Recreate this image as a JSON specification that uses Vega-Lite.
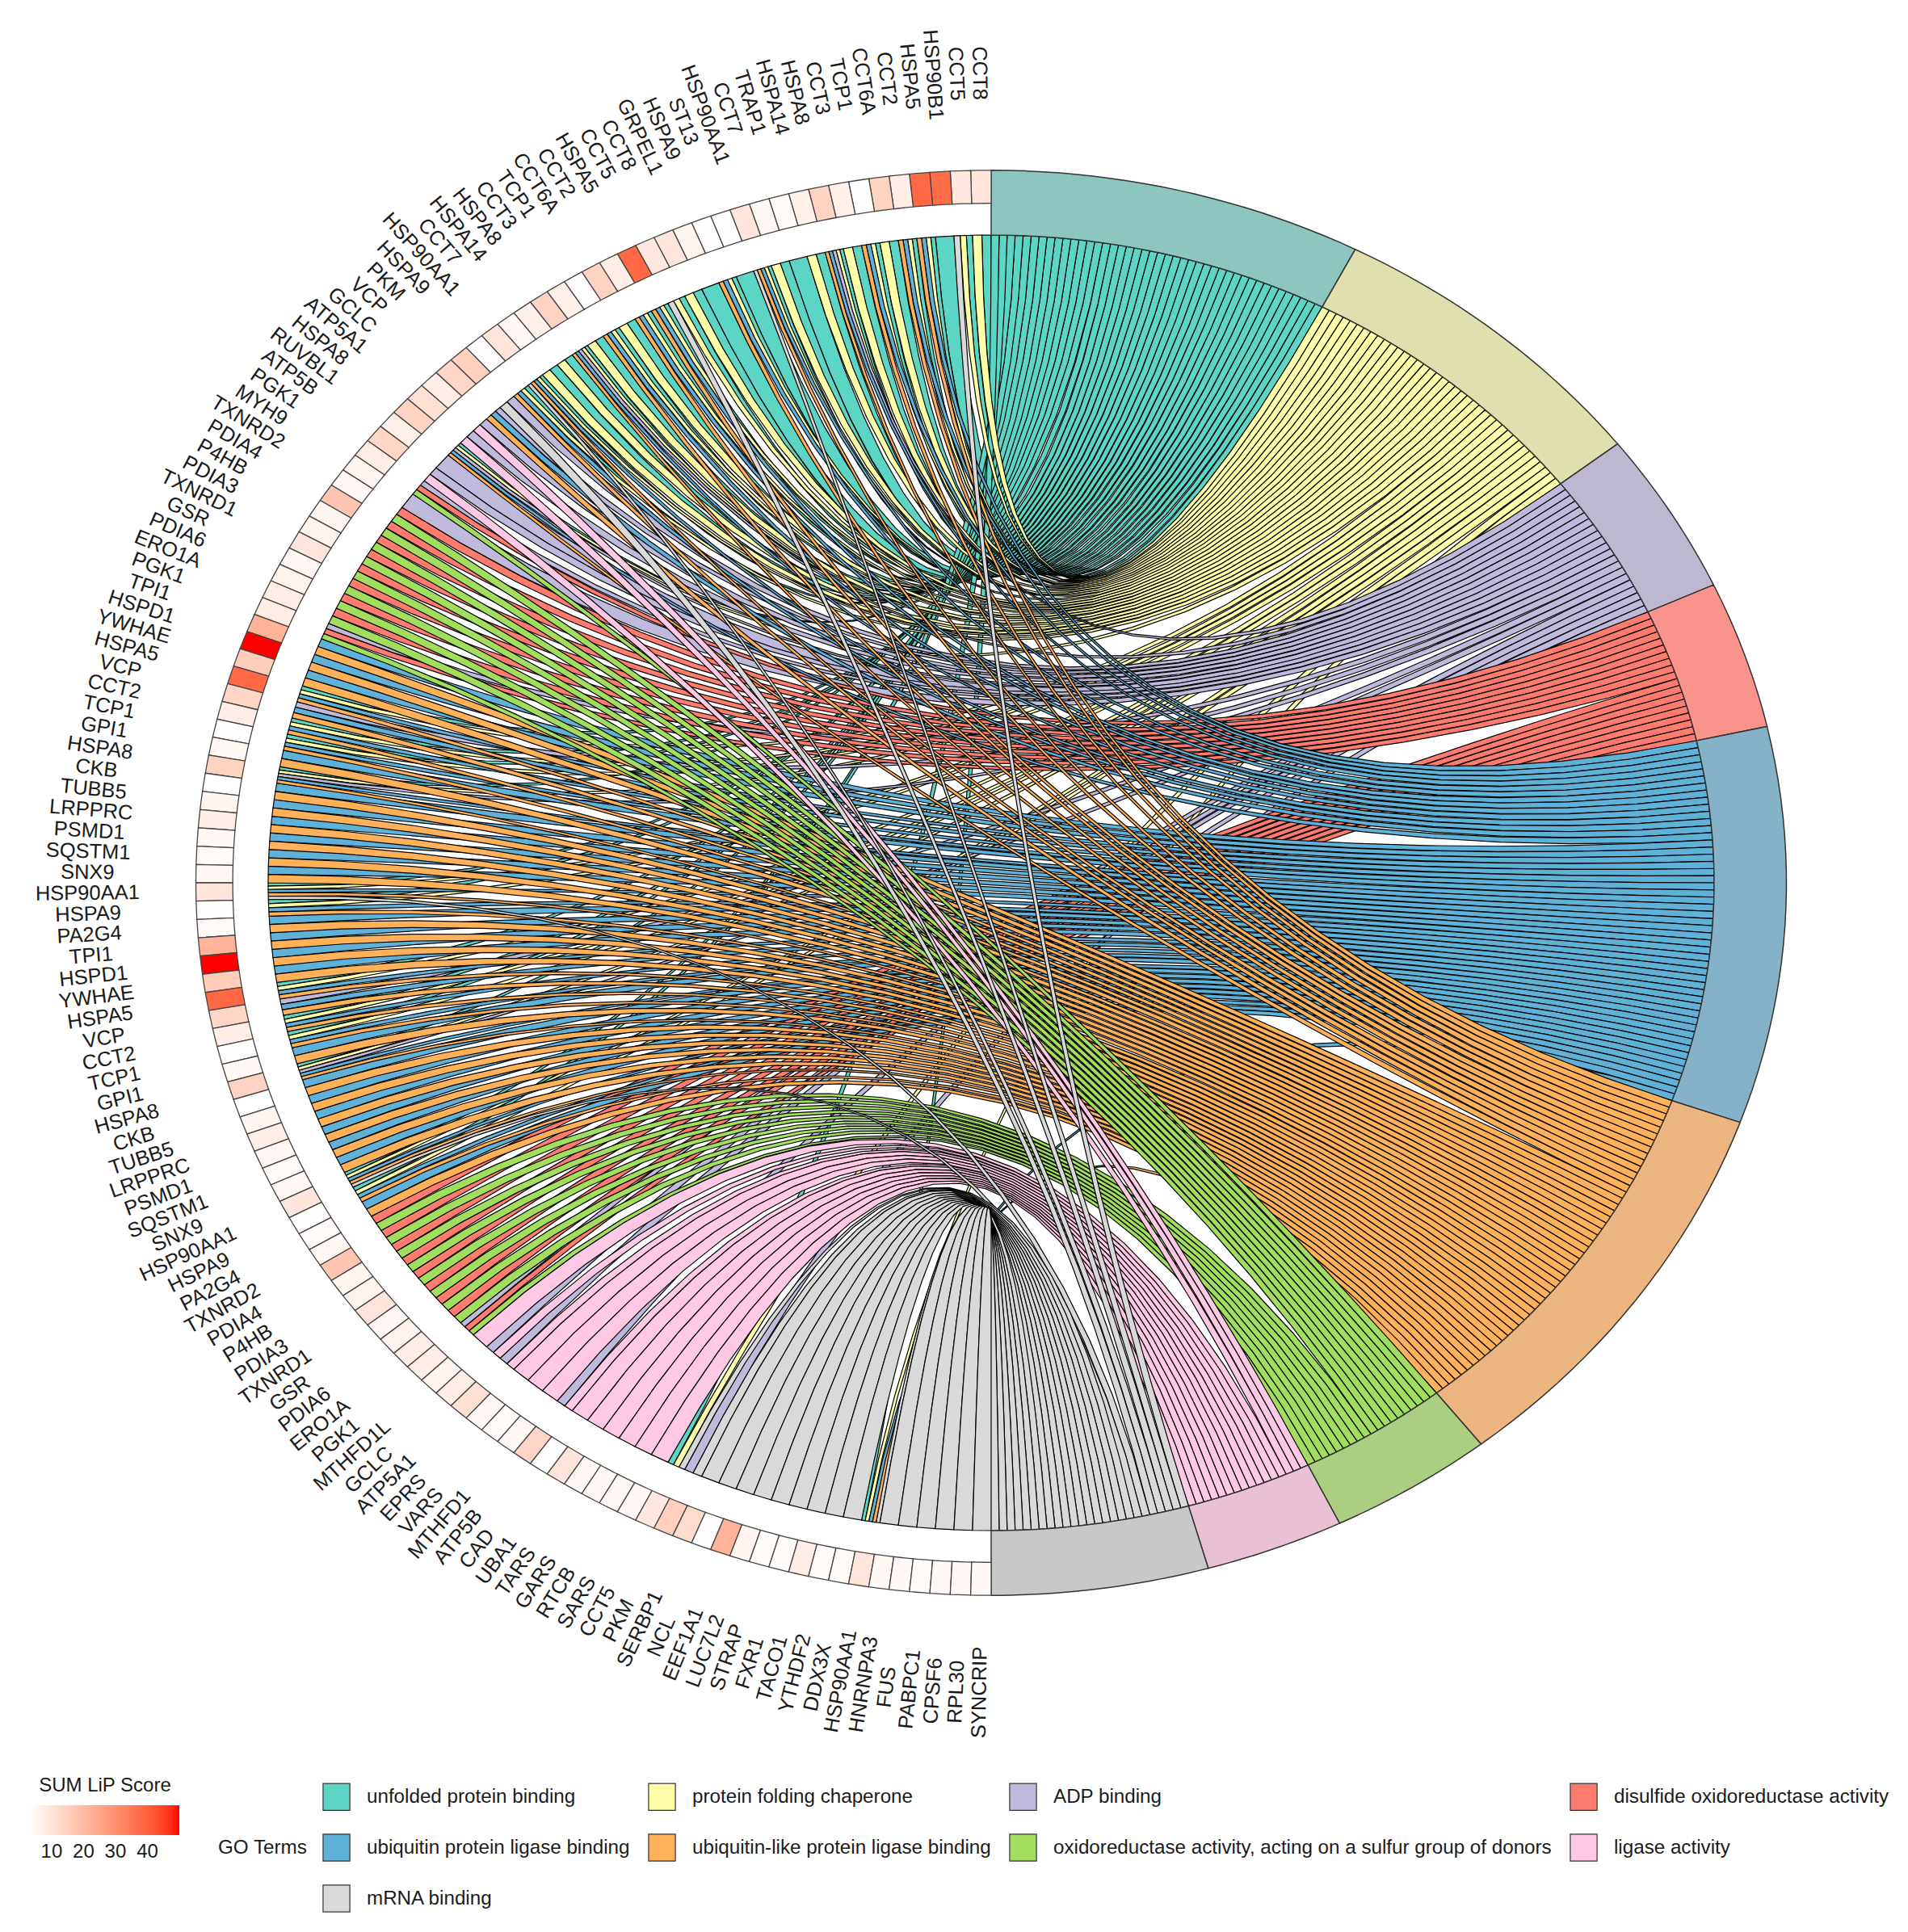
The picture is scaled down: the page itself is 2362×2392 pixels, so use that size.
{"$schema":"https://vega.github.io/schema/vega-lite/v6.json","autosize":{"type":"fit","contains":"padding"},"padding":0,"width":2362,"height":2392,"background":"white","config":{"font":"Liberation Sans","view":{"stroke":null},"line":{"interpolate":"linear-closed","stroke":"#000000","strokeWidth":1.2}},"datasets":{"rows":[
{"row":1,"gene":"CCT8","score":9.6,"terms":[0,1]},{"row":2,"gene":"CCT5","score":8.9,"terms":[0,1,8]},{"row":3,"gene":"HSP90B1","score":37.5,"terms":[0]},{"row":4,"gene":"HSPA5","score":38.5,"terms":[0,1,4,5]},{"row":5,"gene":"CCT2","score":7.6,"terms":[0,1,4,5]},{"row":6,"gene":"CCT6A","score":14.2,"terms":[0,1]},{"row":7,"gene":"TCP1","score":3.6,"terms":[0,1,4,5]},{"row":8,"gene":"CCT3","score":7,"terms":[0,1]},{"row":9,"gene":"HSPA8","score":14.2,"terms":[0,1,2,4,5]},{"row":10,"gene":"HSPA14","score":7,"terms":[0,1]},{"row":11,"gene":"TRAP1","score":4.3,"terms":[0]},{"row":12,"gene":"CCT7","score":5,"terms":[0,1]},{"row":13,"gene":"HSP90AA1","score":9.6,"terms":[0,1,4,5,8]},{"row":14,"gene":"ST13","score":3.6,"terms":[0]},{"row":15,"gene":"HSPA9","score":3.6,"terms":[0,1,4,5]},{"row":16,"gene":"GRPEL1","score":5.6,"terms":[0]},
{"row":17,"gene":"CCT8","score":9.6,"terms":[0,1]},{"row":18,"gene":"CCT5","score":8.9,"terms":[0,1,8]},{"row":19,"gene":"HSPA5","score":38.5,"terms":[0,1,4,5]},{"row":20,"gene":"CCT2","score":7.6,"terms":[0,1,4,5]},{"row":21,"gene":"CCT6A","score":14.2,"terms":[0,1]},{"row":22,"gene":"TCP1","score":3.6,"terms":[0,1,4,5]},{"row":23,"gene":"CCT3","score":7,"terms":[0,1]},{"row":24,"gene":"HSPA8","score":14.2,"terms":[0,1,2,4,5]},{"row":25,"gene":"HSPA14","score":7,"terms":[0,1]},{"row":26,"gene":"CCT7","score":5,"terms":[0,1]},{"row":27,"gene":"HSP90AA1","score":9.6,"terms":[0,1,4,5,8]},{"row":28,"gene":"HSPA9","score":3.6,"terms":[0,1,4,5]},
{"row":29,"gene":"PKM","score":14.9,"terms":[2,8]},{"row":30,"gene":"VCP","score":13.6,"terms":[2,4,5]},{"row":31,"gene":"GCLC","score":7.6,"terms":[2,7]},{"row":32,"gene":"ATP5A1","score":10.9,"terms":[2,7]},{"row":33,"gene":"HSPA8","score":14.2,"terms":[0,1,2,4,5]},{"row":34,"gene":"RUVBL1","score":7,"terms":[2]},{"row":35,"gene":"ATP5B","score":13.6,"terms":[2,7]},{"row":36,"gene":"PGK1","score":7.6,"terms":[2,3,6]},{"row":37,"gene":"MYH9","score":5.6,"terms":[2]},
{"row":38,"gene":"TXNRD2","score":5,"terms":[3,6]},{"row":39,"gene":"PDIA4","score":17.6,"terms":[3,6]},{"row":40,"gene":"P4HB","score":5.6,"terms":[3,6]},{"row":41,"gene":"PDIA3","score":6.3,"terms":[3,6]},{"row":42,"gene":"TXNRD1","score":9.6,"terms":[3,6]},{"row":43,"gene":"GSR","score":5,"terms":[3,6]},{"row":44,"gene":"PDIA6","score":6.3,"terms":[3,6]},{"row":45,"gene":"ERO1A","score":7.6,"terms":[3,6]},{"row":46,"gene":"PGK1","score":7.6,"terms":[2,3,6]},
{"row":47,"gene":"TPI1","score":22,"terms":[4,5]},{"row":48,"gene":"HSPD1","score":50,"terms":[4,5]},{"row":49,"gene":"YWHAE","score":15.6,"terms":[4,5]},{"row":50,"gene":"HSPA5","score":38.5,"terms":[0,1,4,5]},{"row":51,"gene":"VCP","score":13.6,"terms":[2,4,5]},{"row":52,"gene":"CCT2","score":7.6,"terms":[0,1,4,5]},{"row":53,"gene":"TCP1","score":3.6,"terms":[0,1,4,5]},{"row":54,"gene":"GPI1","score":5,"terms":[4,5]},{"row":55,"gene":"HSPA8","score":14.2,"terms":[0,1,2,4,5]},{"row":56,"gene":"CKB","score":3.2,"terms":[4,5]},{"row":57,"gene":"TUBB5","score":5.6,"terms":[4,5]},{"row":58,"gene":"LRPPRC","score":7.6,"terms":[4,5]},{"row":59,"gene":"PSMD1","score":5,"terms":[4,5]},{"row":60,"gene":"SQSTM1","score":4.7,"terms":[4,5]},{"row":61,"gene":"SNX9","score":5,"terms":[4,5]},{"row":62,"gene":"HSP90AA1","score":9.6,"terms":[0,1,4,5,8]},{"row":63,"gene":"HSPA9","score":3.6,"terms":[0,1,4,5]},{"row":64,"gene":"PA2G4","score":4.5,"terms":[4,5]},
{"row":65,"gene":"TPI1","score":22,"terms":[4,5]},{"row":66,"gene":"HSPD1","score":50,"terms":[4,5]},{"row":67,"gene":"YWHAE","score":15.6,"terms":[4,5]},{"row":68,"gene":"HSPA5","score":38.5,"terms":[0,1,4,5]},{"row":69,"gene":"VCP","score":13.6,"terms":[2,4,5]},{"row":70,"gene":"CCT2","score":7.6,"terms":[0,1,4,5]},{"row":71,"gene":"TCP1","score":3.6,"terms":[0,1,4,5]},{"row":72,"gene":"GPI1","score":5,"terms":[4,5]},{"row":73,"gene":"HSPA8","score":14.2,"terms":[0,1,2,4,5]},{"row":74,"gene":"CKB","score":3.2,"terms":[4,5]},{"row":75,"gene":"TUBB5","score":5.6,"terms":[4,5]},{"row":76,"gene":"LRPPRC","score":7.6,"terms":[4,5]},{"row":77,"gene":"PSMD1","score":5,"terms":[4,5]},{"row":78,"gene":"SQSTM1","score":4.7,"terms":[4,5]},{"row":79,"gene":"SNX9","score":5,"terms":[4,5]},{"row":80,"gene":"HSP90AA1","score":9.6,"terms":[0,1,4,5,8]},{"row":81,"gene":"HSPA9","score":3.6,"terms":[0,1,4,5]},{"row":82,"gene":"PA2G4","score":4.5,"terms":[4,5]},
{"row":83,"gene":"TXNRD2","score":5,"terms":[3,6]},{"row":84,"gene":"PDIA4","score":17.6,"terms":[3,6]},{"row":85,"gene":"P4HB","score":5.6,"terms":[3,6]},{"row":86,"gene":"PDIA3","score":6.3,"terms":[3,6]},{"row":87,"gene":"TXNRD1","score":9.6,"terms":[3,6]},{"row":88,"gene":"GSR","score":5,"terms":[3,6]},{"row":89,"gene":"PDIA6","score":6.3,"terms":[3,6]},{"row":90,"gene":"ERO1A","score":7.6,"terms":[3,6]},{"row":91,"gene":"PGK1","score":7.6,"terms":[2,3,6]},
{"row":92,"gene":"MTHFD1L","score":5.6,"terms":[7]},{"row":93,"gene":"GCLC","score":7.6,"terms":[2,7]},{"row":94,"gene":"ATP5A1","score":10.9,"terms":[2,7]},{"row":95,"gene":"EPRS","score":5,"terms":[7]},{"row":96,"gene":"VARS","score":4.3,"terms":[7]},{"row":97,"gene":"MTHFD1","score":5,"terms":[7]},{"row":98,"gene":"ATP5B","score":13.6,"terms":[2,7]},{"row":99,"gene":"CAD","score":3.6,"terms":[7]},{"row":100,"gene":"UBA1","score":9.6,"terms":[7]},{"row":101,"gene":"TARS","score":5,"terms":[7]},{"row":102,"gene":"GARS","score":5,"terms":[7]},{"row":103,"gene":"RTCB","score":5,"terms":[7]},{"row":104,"gene":"SARS","score":5,"terms":[7]},
{"row":105,"gene":"CCT5","score":8.9,"terms":[0,1,8]},{"row":106,"gene":"PKM","score":14.9,"terms":[2,8]},{"row":107,"gene":"SERBP1","score":12.2,"terms":[8]},{"row":108,"gene":"NCL","score":3.6,"terms":[8]},{"row":109,"gene":"EEF1A1","score":22,"terms":[8]},{"row":110,"gene":"LUC7L2","score":5.6,"terms":[8]},{"row":111,"gene":"STRAP","score":4.3,"terms":[8]},{"row":112,"gene":"FXR1","score":4.3,"terms":[8]},{"row":113,"gene":"TACO1","score":7.6,"terms":[8]},{"row":114,"gene":"YTHDF2","score":4.3,"terms":[8]},{"row":115,"gene":"DDX3X","score":4.3,"terms":[8]},{"row":116,"gene":"HSP90AA1","score":9.6,"terms":[0,1,4,5,8]},{"row":117,"gene":"HNRNPA3","score":5,"terms":[8]},{"row":118,"gene":"FUS","score":5,"terms":[8]},{"row":119,"gene":"PABPC1","score":4.3,"terms":[8]},{"row":120,"gene":"CPSF6","score":5,"terms":[8]},{"row":121,"gene":"RPL30","score":5,"terms":[8]},{"row":122,"gene":"SYNCRIP","score":5,"terms":[8]}
]},"encoding":{"x":{"field":"x","type":"quantitative","axis":null,"scale":{"domain":[-1.37095,1.26816],"nice":false,"zero":false}},"y":{"field":"y","type":"quantitative","axis":null,"scale":{"domain":[-1.6197,1.36284],"nice":false,"zero":false}}},"layer":[
{"data":{"name":"rows"},"transform":[{"flatten":["terms"],"as":["term"]},{"window":[{"op":"row_number","as":"j"}],"groupby":["row"],"sort":[{"field":"term","order":"ascending"}]},{"joinaggregate":[{"op":"count","as":"nj"}],"groupby":["row"]},{"window":[{"op":"row_number","as":"k"}],"groupby":["term"],"sort":[{"field":"row","order":"ascending"}]},{"calculate":"datum.term==0?43-datum.k:[0,43,82,103,122,173,224,243,259][datum.term]+datum.k-1","as":"slot"},{"calculate":"['unfolded protein binding','protein folding chaperone','ADP binding','disulfide oxidoreductase activity','ubiquitin protein ligase binding','ubiquitin-like protein ligase binding','oxidoreductase activity, acting on a sulfur group of donors','ligase activity','mRNA binding'][datum.term]","as":"GO Terms"},{"calculate":"[0,1,2,3,4,5,6,7,8,9,10,11,12,13,14,15,16,17,18,19,20,21,22,23,24,25,26,27,28,29,30,31,32,33,34,35,36,37,38,39,40,41]","as":"p"},{"flatten":["p"]},{"calculate":"datum.p<=20?datum.p/20:(41-datum.p)/20","as":"t"},{"calculate":"(datum.slot+(datum.p<=20?0:1))*PI/284","as":"a"},{"calculate":"(datum.row-1+(datum.j-(datum.p<=20?1:0))/datum.nj)*PI/122","as":"b"},{"calculate":"(1-datum.t)*(1-datum.t)*sin(datum.a)-datum.t*datum.t*sin(datum.b)","as":"x"},{"calculate":"(1-datum.t)*(1-datum.t)*cos(datum.a)+datum.t*datum.t*cos(datum.b)","as":"y"}],"encoding":{"detail":[{"field":"row"},{"field":"term"}],"order":{"field":"p","type":"quantitative"},"fill":{"field":"GO Terms","type":"nominal","scale":{"domain":["unfolded protein binding","protein folding chaperone","ADP binding","disulfide oxidoreductase activity","ubiquitin protein ligase binding","ubiquitin-like protein ligase binding","oxidoreductase activity, acting on a sulfur group of donors","ligase activity","mRNA binding"],"range":["#5CD5C5","#FFFFAA","#BFBADB","#FF7B6E","#60B1D8","#FFB15A","#A2DE5E","#FFC9E6","#D9D9D9"]},"legend":{"orient":"none","legendX":270,"legendY":2207,"direction":"horizontal","columns":4,"gridAlign":"each","symbolType":"square","symbolSize":1100,"symbolStrokeColor":"#333333","symbolStrokeWidth":1.5,"rowPadding":24,"columnPadding":20,"labelOffset":20,"labelFontSize":24.2,"labelColor":"#1a1a1a","labelLimit":900,"title":"GO Terms","titleOrient":"left","titleAnchor":"middle","titleFontSize":24.2,"titleFontWeight":"normal","titleColor":"#1a1a1a","titlePadding":18}}},"layer":[{"mark":"line","transform":[{"filter":"datum.term==0"}]},{"mark":"line","transform":[{"filter":"datum.term==1"}]},{"mark":"line","transform":[{"filter":"datum.term==2"}]},{"mark":"line","transform":[{"filter":"datum.term==3"}]},{"mark":"line","transform":[{"filter":"datum.term==4"}]},{"mark":"line","transform":[{"filter":"datum.term==5"}]},{"mark":"line","transform":[{"filter":"datum.term==6"}]},{"mark":"line","transform":[{"filter":"datum.term==7"}]},{"mark":"line","transform":[{"filter":"datum.term==8"}]}]},
{"data":{"values":[{"name":"unfolded protein binding","start":0,"end":43},{"name":"protein folding chaperone","start":43,"end":82},{"name":"ADP binding","start":82,"end":103},{"name":"disulfide oxidoreductase activity","start":103,"end":122},{"name":"ubiquitin protein ligase binding","start":122,"end":173},{"name":"ubiquitin-like protein ligase binding","start":173,"end":224},{"name":"oxidoreductase activity, acting on a sulfur group of donors","start":224,"end":243},{"name":"ligase activity","start":243,"end":259},{"name":"mRNA binding","start":259,"end":284}]},"transform":[{"calculate":"[0,1,2,3,4,5,6,7,8,9,10,11,12,13,14,15,16,17,18,19,20,21,22,23,24,25,26,27,28,29,30,31,32,33,34,35,36,37,38,39,40,41,42,43,44,45]","as":"p"},{"flatten":["p"]},{"calculate":"(datum.start+(datum.end-datum.start)*(datum.p<=22?datum.p/22:(45-datum.p)/22))*PI/284","as":"a"},{"calculate":"datum.p<=22?1:1.1","as":"r"},{"calculate":"datum.r*sin(datum.a)","as":"x"},{"calculate":"datum.r*cos(datum.a)","as":"y"}],"mark":{"type":"line","stroke":"#333333","strokeWidth":1.5},"encoding":{"detail":{"field":"name"},"order":{"field":"p","type":"quantitative"},"fill":{"field":"name","type":"nominal","legend":null,"scale":{"domain":["unfolded protein binding","protein folding chaperone","ADP binding","disulfide oxidoreductase activity","ubiquitin protein ligase binding","ubiquitin-like protein ligase binding","oxidoreductase activity, acting on a sulfur group of donors","ligase activity","mRNA binding"],"range":["#8CC6BF","#E0E0AE","#BDB8CF","#F9938C","#86B2C8","#ECB47E","#ABCE80","#E8C1D4","#C8C8C8"]}}}},
{"data":{"name":"rows"},"transform":[{"calculate":"[0,1,2,3,4,5,6,7]","as":"p"},{"flatten":["p"]},{"calculate":"(datum.row-1+(datum.p<=3?datum.p/3:(7-datum.p)/3))*PI/122","as":"a"},{"calculate":"datum.p<=3?1.049:1.1","as":"r"},{"calculate":"-datum.r*sin(datum.a)","as":"x"},{"calculate":"datum.r*cos(datum.a)","as":"y"}],"mark":{"type":"line","stroke":"#444444","strokeWidth":1.3},"encoding":{"detail":{"field":"row"},"order":{"field":"p","type":"quantitative"},"fill":{"field":"score","type":"quantitative","scale":{"domain":[3.2,50],"range":["#ffffff","#ff0000"],"interpolate":"lab"},"legend":{"orient":"none","legendX":37,"legendY":2199,"direction":"horizontal","gradientLength":185,"gradientThickness":37,"values":[10,20,30,40],"title":"SUM LiP Score","titleAnchor":"middle","titleFontSize":24,"titleFontWeight":"normal","titleColor":"#1a1a1a","titlePadding":12,"labelFontSize":24,"labelColor":"#1a1a1a","labelOffset":9,"gradientStrokeWidth":0}}}},
{"data":{"name":"rows"},"transform":[{"calculate":"(datum.row-0.5)*PI/122","as":"a"},{"calculate":"-1.25*sin(datum.a)","as":"x"},{"calculate":"1.25*cos(datum.a)","as":"y"},{"calculate":"atan2(802*cos(datum.a),895*sin(datum.a))*180/PI","as":"angle"}],"mark":{"type":"text","align":"center","baseline":"middle","fontSize":25.5,"color":"#1a1a1a"},"encoding":{"text":{"field":"gene","type":"nominal"},"angle":{"field":"angle","type":"quantitative","scale":null}}}
],"resolve":{"scale":{"fill":"independent"}}}
